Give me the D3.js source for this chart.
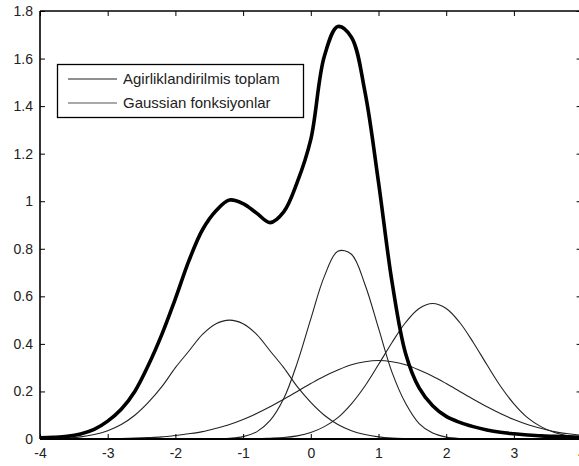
<!DOCTYPE html>
<html><head><meta charset="utf-8">
<script src="https://cdn.jsdelivr.net/npm/d3@7"></script>
<style>body{margin:0;background:#fff}svg{display:block}text{font-family:"Liberation Sans",Arial,sans-serif}</style>
</head><body><div id="c"></div>
<script>
// sample positions (x)
const xs = d3.range(41).map(i => -4 + i * 0.2);
// values at each x
const weightedSum = [0.005,0.007,0.011,0.021,0.040,0.075,0.125,0.20,0.31,0.44,0.59,0.75,0.88,0.96,1.005,0.99,0.95,0.91,0.955,1.08,1.26,1.61,1.735,1.69,1.46,1.08,0.66,0.36,0.215,0.14,0.095,0.07,0.052,0.038,0.028,0.022,0.017,0.013,0.011,0.009,0.007];
const gaussA = [0.001,0.002,0.004,0.009,0.019,0.035,0.061,0.10,0.154,0.22,0.30,0.37,0.44,0.485,0.50,0.485,0.44,0.37,0.30,0.22,0.154,0.10,0.061,0.035,0.019,0.009,0.004,0.002,0.001,0,0,0,0,0,0,0,0,0,0,0,0];
const gaussB = [0,0,0,0,0,0,0,0,0,0,0,0,0,0,0.003,0.010,0.030,0.078,0.17,0.32,0.505,0.684,0.79,0.777,0.65,0.466,0.28,0.15,0.065,0.025,0.008,0.002,0.001,0,0,0,0,0,0,0,0];
const gaussC = [0,0,0,0,0,0.001,0.002,0.004,0.006,0.009,0.015,0.022,0.031,0.045,0.061,0.082,0.107,0.136,0.167,0.20,0.233,0.264,0.29,0.312,0.325,0.33,0.325,0.312,0.29,0.264,0.233,0.20,0.167,0.136,0.107,0.082,0.061,0.045,0.031,0.022,0.015];
const gaussD = [0,0,0,0,0,0,0,0,0,0,0,0,0,0,0,0,0.001,0.003,0.006,0.013,0.027,0.052,0.09,0.148,0.223,0.313,0.406,0.49,0.549,0.57,0.549,0.49,0.406,0.313,0.223,0.148,0.09,0.052,0.027,0.013,0.006];
const xTicks = [-4,-3,-2,-1,0,1,2,3,4];
const yTicks = [0,0.2,0.4,0.6,0.8,1,1.2,1.4,1.6,1.8];
const legendLabels = ["Agirliklandirilmis toplam","Gaussian fonksiyonlar"];

const W = 579, H = 466;
const pL = 40, pR = 581.6, pT = 11, pB = 439;
const svg = d3.select("#c").append("svg").attr("width", W).attr("height", H);
const x = d3.scaleLinear().domain([-4,4]).range([pL,pR]);
const y = d3.scaleLinear().domain([0,1.8]).range([pB,pT]);

const line = vals => d3.line().x((d,i)=>x(xs[i])).y(d=>y(d)).curve(d3.curveCatmullRom)(vals);

[gaussA,gaussB,gaussC,gaussD].forEach(g=>{
  svg.append("path").attr("d", line(g)).attr("fill","none").attr("stroke","#222").attr("stroke-width",1.1);
});
svg.append("path").attr("d", line(weightedSum)).attr("fill","none").attr("stroke","#000").attr("stroke-width",3.6).attr("stroke-linejoin","round");

// axes
const fmt = d => String(d);
const ax = svg.append("g").attr("transform",`translate(0,${pB})`)
  .call(d3.axisBottom(x).tickValues(xTicks).tickSize(-5).tickPadding(9).tickFormat(fmt));
const axT = svg.append("g").attr("transform",`translate(0,${pT})`)
  .call(d3.axisTop(x).tickValues(xTicks).tickSize(-5).tickFormat(""));
const ay = svg.append("g").attr("transform",`translate(${pL},0)`)
  .call(d3.axisLeft(y).tickValues(yTicks).tickSize(-5).tickPadding(7).tickFormat(fmt));
const ayR = svg.append("g").attr("transform",`translate(${pR},0)`)
  .call(d3.axisRight(y).tickValues(yTicks).tickSize(-5).tickFormat(""));
[ax,axT,ay,ayR].forEach(g=>{
  g.selectAll(".tick line").attr("stroke","#000").attr("stroke-width",1);
  g.selectAll("text").attr("font-size",14).attr("fill","#222").attr("font-family","Liberation Sans, Arial, sans-serif");
});
svg.selectAll(".domain").remove();
// frame lines
svg.append("line").attr("x1",pL).attr("x2",pR).attr("y1",pB).attr("y2",pB).attr("stroke","#000").attr("stroke-width",2.2);
svg.append("line").attr("x1",pL).attr("x2",pR).attr("y1",pT).attr("y2",pT).attr("stroke","#000").attr("stroke-width",1.3);
svg.append("line").attr("x1",pL).attr("x2",pL).attr("y1",pT).attr("y2",pB).attr("stroke","#000").attr("stroke-width",1.6);

// legend
const lg = svg.append("g");
lg.append("rect").attr("x",57.5).attr("y",64.5).attr("width",246).attr("height",53).attr("fill","#fff").attr("stroke","#000").attr("stroke-width",1.3);
const lcol = ["#222","#555"];
legendLabels.forEach((t,i)=>{
  const yy = 79 + i*24;
  lg.append("line").attr("x1",68).attr("x2",117).attr("y1",yy).attr("y2",yy).attr("stroke",lcol[i]).attr("stroke-width",1.2);
  lg.append("text").attr("x",123).attr("y",yy+5).attr("font-size",15).attr("fill","#222").text(t);
});
</script></body></html>
